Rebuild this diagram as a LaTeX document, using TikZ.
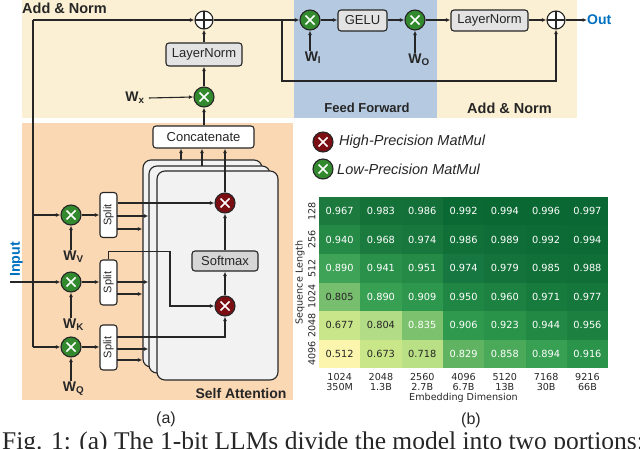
\documentclass[tikz,border=0pt]{standalone}
\usepackage{fontspec}
\setmainfont{Liberation Sans}
\newfontfamily\djv{DejaVu Sans}
\newfontfamily\tms{Liberation Serif}
\usetikzlibrary{arrows.meta,calc}
\definecolor{bgY}{HTML}{FBF0D3}
\definecolor{bgO}{HTML}{FAD8B4}
\definecolor{bgB}{HTML}{B5C9E1}
\definecolor{lpG}{HTML}{338A2E}
\definecolor{hpR}{HTML}{7A0E12}
\definecolor{lnc}{HTML}{262626}
\definecolor{outB}{HTML}{0070C0}
\definecolor{boxG}{HTML}{E3E3E3}
\definecolor{smG}{HTML}{D6D6D6}
\definecolor{saG}{HTML}{F2F2F2}
\definecolor{tdark}{HTML}{262626}
\tikzset{
  conn/.style={draw=lnc, line width=1.1pt},
  arr/.style={conn, -{Latex[length=4.5pt,width=3.8pt]}},
  mult/.style={circle, draw=lnc, line width=1.1pt, minimum size=20pt, inner sep=0pt,
    path picture={\draw[white,line width=1.7pt]
      ([shift={(-4.5pt,-4.5pt)}]path picture bounding box.center) -- ([shift={(4.5pt,4.5pt)}]path picture bounding box.center)
      ([shift={(-4.5pt,4.5pt)}]path picture bounding box.center) -- ([shift={(4.5pt,-4.5pt)}]path picture bounding box.center);}},
  lp/.style={mult, fill=lpG},
  hp/.style={mult, fill=hpR},
  adder/.style={circle, draw=lnc, fill=white, line width=1.1pt, minimum size=18pt, inner sep=0pt,
    path picture={\draw[lnc,line width=1.1pt]
      (path picture bounding box.north) -- (path picture bounding box.south)
      (path picture bounding box.west) -- (path picture bounding box.east);}},
  boxtxt/.style={font=\fontsize{13}{15}\selectfont, text=tdark},
  gbox/.style={boxtxt, draw=lnc, line width=1.1pt, rounded corners=3pt, fill=boxG, inner sep=0pt},
  wbox/.style={gbox, fill=white},
  smbox/.style={gbox, fill=smG},
  splitbox/.style={wbox, minimum width=17pt, minimum height=45pt, font=\fontsize{11}{13}\selectfont},
  sabox/.style={draw=lnc, line width=1.1pt, fill=saG, rounded corners=8pt},
  wlab/.style={font=\fontsize{14}{16}\selectfont\bfseries, inner sep=1pt, text=tdark},
  title/.style={font=\fontsize{14.5}{16}\selectfont\bfseries, inner sep=0pt, text=tdark},
  hm/.style={font=\djv\fontsize{9.8}{11}\selectfont, inner sep=0pt},
  hmlab/.style={font=\djv\fontsize{9.6}{10.4}\selectfont, inner sep=0pt, text=tdark},
  legtxt/.style={font=\fontsize{14.5}{16}\selectfont\itshape, inner sep=0pt, anchor=west, text=tdark},
}
\begin{document}
\begin{tikzpicture}[x=1pt,y=-1pt]
\useasboundingbox (0,0) rectangle (640,449);
% backgrounds
\fill[bgY] (22,0) rectangle (577,118);
\fill[bgB] (294,0) rectangle (437,118);
\fill[bgO] (22,123) rectangle (293,400);

\node[title, anchor=base west] (tAN1) at (22,13.3) {Add \& Norm};
\node[title, font=\fontsize{13}{15}\selectfont\bfseries] (tFF) at (367,108) {Feed Forward};
\node[title] (tAN2) at (509.5,108) {Add \& Norm};
\node[title, font=\fontsize{14}{16}\selectfont\bfseries] (tSA) at (241,393) {Self Attention};

% self-attention stack
\node[sabox, minimum width=119pt, minimum height=207pt] (sa1) at (202.5,263.5) {};
\node[sabox, minimum width=121pt, minimum height=207pt] (sa2) at (209.5,269.5) {};
\node[sabox, minimum width=121pt, minimum height=209pt] (sa3) at (217.5,275.5) {};

\node[wbox, minimum width=101pt, minimum height=22pt] (concat) at (203.5,137) {Concatenate};
\node[hp] (hpT) at (225,203) {};
\node[smbox, minimum width=66pt, minimum height=20pt] (soft) at (225,261) {Softmax};
\node[hp] (hpB) at (225,306) {};

% projections
\node[lp] (mV) at (71,215) {};
\node[lp] (mK) at (71,282) {};
\node[lp] (mQ) at (71,347) {};
\node[wlab] (WV) at (73.5,257) {W\textsubscript{V}};
\node[wlab] (WK) at (73.5,325) {W\textsubscript{K}};
\node[wlab] (WQ) at (73.5,389) {W\textsubscript{Q}};
\node[splitbox] (sV) at (108.5,215) {\rotatebox{90}{Split}};
\node[splitbox] (sK) at (108.5,282.5) {\rotatebox{90}{Split}};
\node[splitbox] (sQ) at (108.5,347.5) {\rotatebox{90}{Split}};

% top row
\node[adder] (add1) at (204,20) {};
\node[gbox, minimum width=76pt, minimum height=23pt] (ln1) at (204,54.5) {LayerNorm};
\node[lp] (mx) at (204,97) {};
\node[wlab] (Wx) at (135,98) {W\textsubscript{x}};

\node[lp] (fm1) at (310,20) {};
\node[wlab] (WI) at (313,58) {W\textsubscript{I}};
\node[gbox, minimum width=49pt, minimum height=21pt] (gelu) at (362.5,20.5) {GELU};
\node[lp] (fm2) at (415,20) {};
\node[wlab] (WO) at (419,60) {W\textsubscript{O}};
\node[gbox, minimum width=77pt, minimum height=21pt] (ln2) at (489.5,20.5) {LayerNorm};
\node[adder] (add2) at (556,20) {};
\node[font=\fontsize{14}{16}\selectfont\bfseries, text=outB, anchor=west, inner sep=0pt] (tOut) at (587,20) {Out};

% input
\node[rotate=90, font=\fontsize{14.3}{16}\selectfont\bfseries, text=outB, inner sep=0pt] (tIn) at (16.5,259.5) {Input};
\coordinate (inS) at (10,282);
\coordinate (trT) at (33,20);
\coordinate (trV) at (33,215);
\coordinate (trQ) at (33,347);
\coordinate (res1) at (282,20);
\coordinate (res2) at (282,81);

% connectors: trunk
\draw[conn] (trT) -- (trQ);
\draw[arr] (trT) -- (add1.west);
\draw[arr] (trV) -- (mV.west);
\draw[arr] (trQ) -- (mQ.west);
\draw[arr] (inS) -- (mK.west);
\draw[arr] (WV.north -| mV) -- (mV.south);
\draw[arr] (WK.north -| mK) -- (mK.south);
\draw[arr] (WQ.north -| mQ) -- (mQ.south);
\draw[arr] (mV.east) -- (sV.west);
\draw[arr] (mK.east) -- (sK.west |- mK);
\draw[arr] (mQ.east) -- (sQ.west |- mQ);

% split outputs
\coordinate (v2) at (117,216); \coordinate (v3) at (117,229);
\coordinate (k2) at (117,282); \coordinate (k3) at (117,294);
\coordinate (q1) at (117,337); \coordinate (q2) at (117,349); \coordinate (q3) at (117,360);
\draw[arr] (sV.east |- hpT) -- (hpT.west);
\draw[arr] (v2) -- (v2 -| sa2.west);
\draw[arr] (v3) -- (v3 -| sa1.west);
\draw[arr] (k2) -- (k2 -| sa2.west);
\draw[arr] (k3) -- (k3 -| sa1.west);
\draw[arr] (q2) -- (q2 -| sa2.west);
\draw[arr] (q3) -- (q3 -| sa1.west);
\draw[arr] (sK.north) -- ++(0,-8) -| (170,252) -- (170,306) -- (hpB.west);
\draw[arr] (q1) -| (hpB.south);
\draw[arr] (hpB.north) -- (soft.south);
\draw[arr] (soft.north) -- (hpT.south);

% to concat
\coordinate (c1) at (181,160);
\coordinate (c2) at (202,166);
\draw[arr] (c1) -- (c1 |- concat.south);
\draw[arr] (c2) -- (c2 |- concat.south);
\draw[arr] (hpT.north) -- (hpT.north |- concat.south);
\draw[arr] (concat.north -| mx) -- (mx.south);
\draw[arr] (Wx.east) ++(3,0) -- (mx.west);
\draw[arr] (mx.north) -- (ln1.south);
\draw[arr] (ln1.north) -- (add1.south);

% top row
\draw[arr] (add1.east) -- (fm1.west);
\draw[arr] (res1) -- (res2) -| (add2.south);
\draw[arr] (WI.north -| fm1) -- (fm1.south);
\draw[arr] (WO.north -| fm2) -- (fm2.south);
\draw[arr] (fm1.east) -- (gelu.west |- fm1);
\draw[arr] (gelu.east |- fm2) -- (fm2.west);
\draw[arr] (fm2.east) -- (ln2.west |- fm2);
\draw[arr] (ln2.east |- add2) -- (add2.west);
\draw[arr] (add2.east) -- (tOut.west);

% legend
\node[hp] (hpL) at (323,142) {};
\node[legtxt] (hpLt) at (339,142) {High-Precision MatMul};
\node[lp] (lpL) at (323,169) {};
\node[legtxt] (lpLt) at (337,169) {Low-Precision MatMul};

% heatmap
\foreach \r/\c/\v/\hx/\tc in {
0/0/0.967/1C7A3E/white, 0/1/0.983/147239/white, 0/2/0.986/127038/white, 0/3/0.992/0B6A34/white, 0/4/0.994/0A6933/white, 0/5/0.996/0A6833/white, 0/6/0.997/096833/white,
1/0/0.940/248A45/white, 1/1/0.968/1B7B3F/white, 1/2/0.974/18773D/white, 1/3/0.986/117038/white, 1/4/0.989/0F6D37/white, 1/5/0.992/0D6B36/white, 1/6/0.994/0C6A35/white,
2/0/0.890/3EA257/white, 2/1/0.941/29914A/white, 2/2/0.951/248A46/white, 2/3/0.974/167741/white, 2/4/0.979/14733A/white, 2/5/0.985/117038/white, 2/6/0.988/106E37/white,
3/0/0.805/78BE6F/tdark, 3/1/0.890/38A053/white, 3/2/0.909/2D974D/white, 3/3/0.950/1F8644/white, 3/4/0.960/1C8141/white, 3/5/0.971/187B3E/white, 3/6/0.977/15773C/white,
4/0/0.677/C9E78A/tdark, 4/1/0.804/B3DC86/tdark, 4/2/0.835/7CC26E/white, 4/3/0.906/2F9A4E/white, 4/4/0.923/299349/white, 4/5/0.944/228944/white, 4/6/0.956/1C8140/white,
5/0/0.512/FBF5AD/tdark, 5/1/0.673/C9E788/tdark, 5/2/0.718/B9E085/tdark, 5/3/0.829/60B361/white, 5/4/0.858/4BA95A/white, 5/5/0.894/37A052/white, 5/6/0.916/2A944A/white}{
  \definecolor{cellc}{HTML}{\hx}
  \fill[cellc] ({319+41.3*\c},{197+28.5*\r}) rectangle ++(41.6,28.8);
  \node[hm, text=\tc] (cell-\r-\c) at ({319+41.3*(\c+0.5)},{197+28.5*(\r+0.5)}) {\v};
}
\foreach \lab [count=\i from 0] in {128,256,512,1024,2048,4096}
  \node[hmlab, rotate=90] (yt\i) at (312,{197+28.5*(\i+0.5)}) {\lab};
\foreach \a/\b [count=\i from 0] in {1024/350M,2048/1.3B,2560/2.7B,4096/6.7B,5120/13B,7168/30B,9216/66B}
  \node[hmlab, align=center] (xt\i) at ({319+41.3*(\i+0.5)},382) {\a\\\b};
\node[hmlab] (xlab) at (463.5,397.5) {Embedding Dimension};
\node[hmlab, rotate=90] (ylab) at (300,282.5) {Sequence Length};

% sub-labels
\node[font=\fontsize{16}{18}\selectfont, inner sep=0pt, text=tdark] (la) at (166,419) {(a)};
\node[font=\fontsize{16}{18}\selectfont, inner sep=0pt, text=tdark] (lb) at (471,420) {(b)};

% caption (cut off)
\begin{scope}
\clip (0,0) rectangle (640,449);
\node[anchor=base west, font=\tms\fontsize{25.5}{28}\selectfont, inner sep=0pt, text=tdark] (cap) at (2,449.5) {Fig. 1: (a) The 1-bit LLMs divide the model into two portions:};
\end{scope}
\end{tikzpicture}
\end{document}
